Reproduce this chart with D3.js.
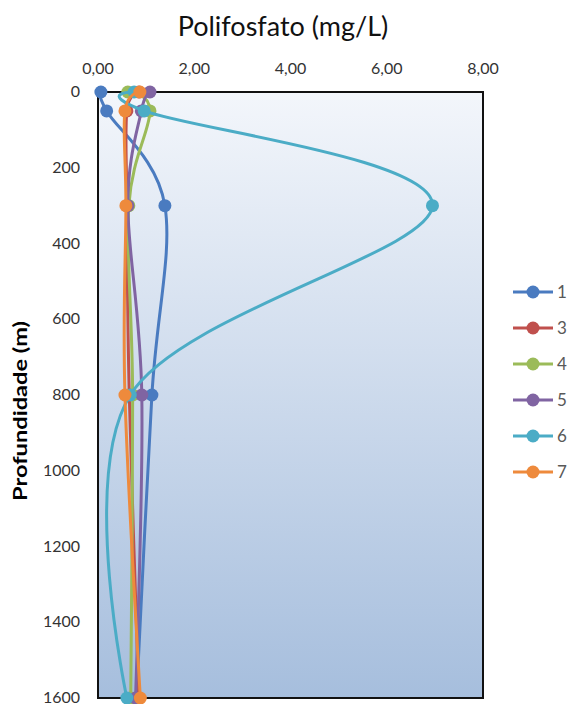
<!DOCTYPE html>
<html>
<head>
<meta charset="utf-8">
<script src="https://cdn.jsdelivr.net/npm/d3@7"></script>
<style>
  body { margin: 0; background: #fff; }
  text { font-family: Lato, "Open Sans", sans-serif; }
</style>
</head>
<body>
<div id="chart"></div>
<script>
const depths = [0, 50, 300, 800, 1600];
const seriesNames = ["1", "3", "4", "5", "6", "7"];
const s1 = [0.06, 0.18, 1.39, 1.12, 0.80];
const s3 = [0.85, 0.60, 0.60, 0.65, 0.85];
const s4 = [0.62, 1.08, 0.64, 0.72, 0.68];
const s5 = [1.08, 0.90, 0.62, 0.91, 0.78];
const s6 = [0.75, 0.96, 6.95, 0.67, 0.60];
const s7 = [0.87, 0.56, 0.58, 0.56, 0.88];
const colors = ["#4A7BC0", "#C0504D", "#9BBB59", "#8064A2", "#4BACC6", "#EE8A3C"];
const xTicks = [0, 2, 4, 6, 8];
const yTicks = [0, 200, 400, 600, 800, 1000, 1200, 1400, 1600];

const allSeries = [s1, s3, s4, s5, s6, s7];
const W = 571, H = 704;
const plot = { left: 98, right: 483, top: 92, bottom: 698 };

const svg = d3.select("#chart").append("svg")
    .attr("width", W)
    .attr("height", H);

const x = d3.scaleLinear().domain([0, 8]).range([plot.left, plot.right]);
const y = d3.scaleLinear().domain([0, 1600]).range([plot.top, plot.bottom]);

// gradient background of plot area
const grad = svg.append("defs").append("linearGradient")
    .attr("id", "bg").attr("x1", 0).attr("y1", 0).attr("x2", 0).attr("y2", 1);
grad.append("stop").attr("offset", "0%").attr("stop-color", "#f3f6fb");
grad.append("stop").attr("offset", "100%").attr("stop-color", "#a6bedd");

svg.append("rect")
    .attr("x", plot.left).attr("y", plot.top)
    .attr("width", plot.right - plot.left)
    .attr("height", plot.bottom - plot.top)
    .attr("fill", "url(#bg)");

// title
svg.append("text")
    .attr("x", 283).attr("y", 36)
    .attr("text-anchor", "middle")
    .style("font-size", "27px")
    .attr("fill", "#111")
    .text("Polifosfato (mg/L)");

// x axis (top)
svg.append("g")
    .selectAll("text")
    .data(xTicks)
    .join("text")
    .attr("x", d => x(d))
    .attr("y", 74)
    .attr("text-anchor", "middle")
    .style("font-size", "16px")
    .attr("fill", "#333")
    .text(d => d3.format(".2f")(d).replace(".", ","));

// y axis
svg.append("g")
    .selectAll("text")
    .data(yTicks)
    .join("text")
    .attr("x", 80)
    .attr("y", d => y(d) + 5)
    .attr("text-anchor", "end")
    .style("font-size", "16px")
    .attr("fill", "#333")
    .text(d => d);

svg.append("text")
    .attr("transform", `translate(27,411) rotate(-90)`)
    .attr("text-anchor", "middle")
    .attr("textLength", 180)
    .attr("lengthAdjust", "spacingAndGlyphs")
    .style("font-size", "19px")
    .style("font-weight", "bold")
    .attr("fill", "#000")
    .text("Profundidade (m)");

// border
svg.append("rect")
    .attr("x", plot.left).attr("y", plot.top)
    .attr("width", plot.right - plot.left)
    .attr("height", plot.bottom - plot.top)
    .attr("fill", "none")
    .attr("stroke", "#111")
    .attr("stroke-width", 2);

const line = d3.line()
    .x(d => x(d[0]))
    .y(d => y(d[1]))
    .curve(d3.curveCardinal.tension(0));

const lines = svg.append("g");
allSeries.forEach((vals, i) => {
    const pts = vals.map((v, j) => [v, depths[j]]);
    const g = lines.append("g");
    g.append("path")
        .attr("d", line(pts))
        .attr("fill", "none")
        .attr("stroke", colors[i])
        .attr("stroke-width", 3);
    g.selectAll("circle")
        .data(pts)
        .join("circle")
        .attr("cx", d => x(d[0]))
        .attr("cy", d => y(d[1]))
        .attr("r", 6.5)
        .attr("fill", colors[i]);
});

// legend
const legend = svg.append("g");
seriesNames.forEach((name, i) => {
    const ly = 292 + i * 36;
    legend.append("line")
        .attr("x1", 513).attr("x2", 553)
        .attr("y1", ly).attr("y2", ly)
        .attr("stroke", colors[i])
        .attr("stroke-width", 3);
    legend.append("circle")
        .attr("cx", 533).attr("cy", ly).attr("r", 6.5)
        .attr("fill", colors[i]);
    legend.append("text")
        .attr("x", 557).attr("y", ly + 6)
        .style("font-size", "17px")
        .attr("fill", "#595959")
        .text(name);
});
</script>
</body>
</html>
